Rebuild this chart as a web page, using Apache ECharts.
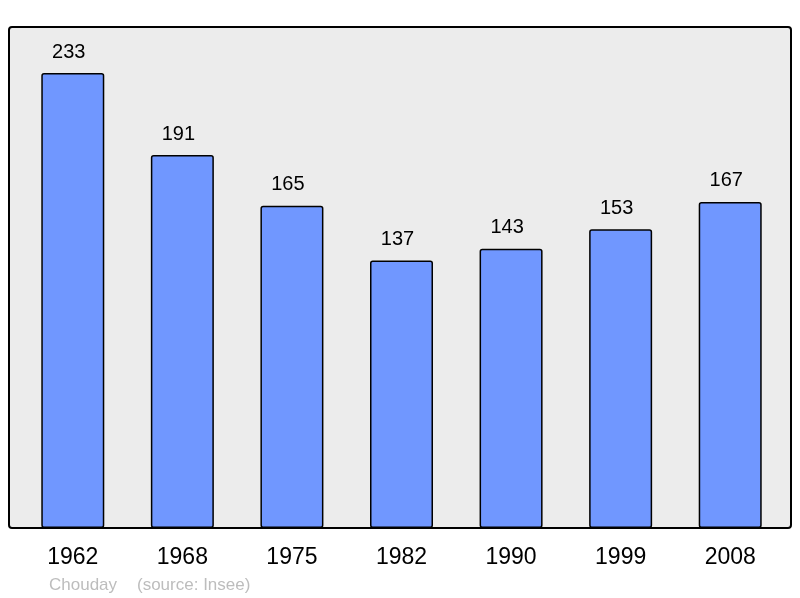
<!DOCTYPE html>
<html><head><meta charset="utf-8">
<script src="https://cdn.jsdelivr.net/npm/echarts@6/dist/echarts.min.js"></script>
<style>html,body{margin:0;padding:0;background:#fff}#c{width:800px;height:598px}</style>
</head><body><div id="c"></div>
<script>
const years = ['1962','1968','1975','1982','1990','1999','2008'];
const population = [233,191,165,137,143,153,167];
const chart = echarts.init(document.getElementById('c'));
chart.setOption({
  animation:false,
  backgroundColor:'#ffffff',
  grid:{left:18, width:767, top:39.8, bottom:70},
  graphic:[
    {type:'rect', z:-10, shape:{x:9,y:27,width:782,height:501,r:3}, style:{fill:'#ececec',stroke:'#000',lineWidth:2}},
    {type:'text', left:49, top:577, style:{text:'Chouday', fill:'#bdbdbd', font:'17px "Liberation Sans", Arial, sans-serif'}},
    {type:'text', left:137, top:577, style:{text:'(source: Insee)', fill:'#bdbdbd', font:'17px "Liberation Sans", Arial, sans-serif'}}
  ],
  xAxis:{type:'category', data:years, axisLine:{show:false}, axisTick:{show:false},
    axisLabel:{color:'#000', fontSize:23, fontFamily:'"Liberation Sans", Arial, sans-serif', margin:18}},
  yAxis:{type:'value', min:0, max:250, show:false, splitLine:{show:false}},
  series:[{type:'bar', data:population, barWidth:63,
    itemStyle:{color:'#7097ff', borderColor:'#000', borderWidth:1.5, borderRadius:2},
    label:{show:true, position:'top', distance:11, offset:[-4,0], color:'#000', fontSize:20, fontFamily:'"Liberation Sans", Arial, sans-serif'}}]
});
</script></body></html>
